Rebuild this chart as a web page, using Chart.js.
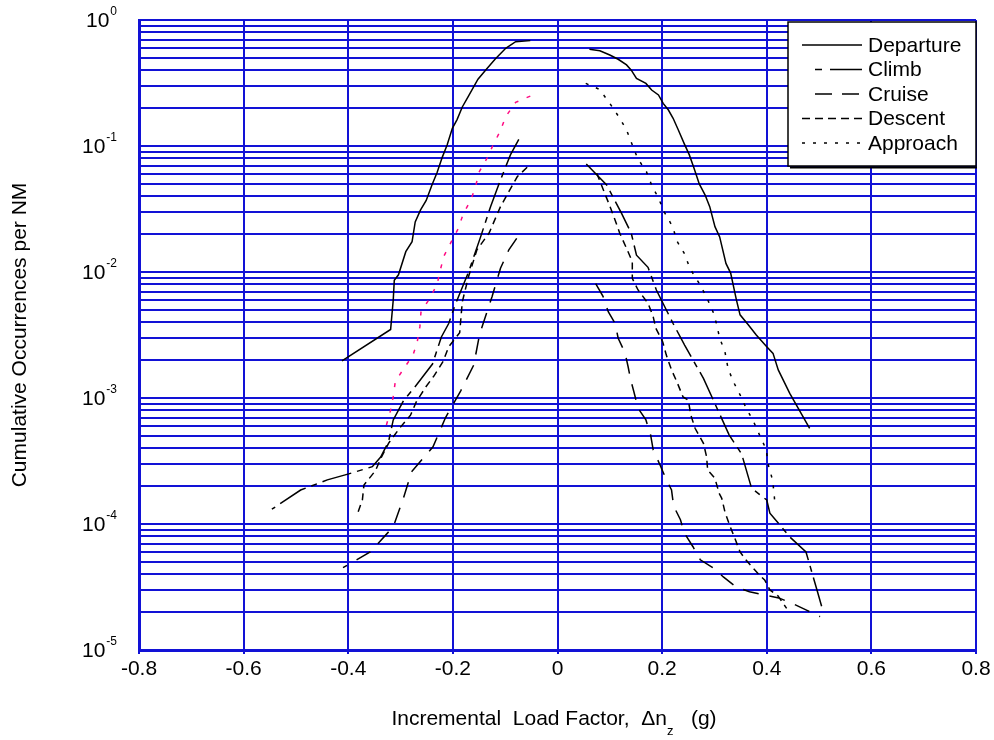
<!DOCTYPE html>
<html><head><meta charset="utf-8">
<script src="https://cdn.jsdelivr.net/npm/chart.js@4.4.0/dist/chart.umd.min.js"></script>
<style>html,body{margin:0;padding:0;background:#fff;}#wrap{width:994px;height:740px;}</style>
</head><body><div id="wrap"><canvas id="c" width="994" height="740"></canvas></div>
<script>
// ---------------- data ----------------
const xTickValues = [-0.8, -0.6, -0.4, -0.2, 0, 0.2, 0.4, 0.6, 0.8];
const yDecadeExponents = [0, -1, -2, -3, -4, -5];
const phaseLabels = ['Departure', 'Climb', 'Cruise', 'Descent', 'Approach'];

const departureNegX = [-0.412,-0.319,-0.314,-0.312,-0.304,-0.29,-0.278,-0.272,-0.262,-0.251,-0.24,-0.23,-0.22,-0.211,-0.201,-0.192,-0.182,-0.171,-0.152,-0.138,-0.119,-0.099,-0.08,-0.052];
const departureNegY = [1.97e-3,3.5e-3,6.0e-3,8.6e-3,9.5e-3,1.45e-2,1.74e-2,2.5e-2,3.1e-2,3.7e-2,4.9e-2,6.2e-2,8.2e-2,0.102,0.138,0.162,0.204,0.245,0.339,0.398,0.49,0.596,0.673,0.686];
const departurePosX = [0.061,0.081,0.1,0.116,0.132,0.141,0.151,0.169,0.18,0.193,0.202,0.212,0.221,0.231,0.242,0.252,0.261,0.271,0.282,0.291,0.301,0.31,0.322,0.331,0.342,0.349,0.365,0.38,0.4,0.412,0.422,0.444,0.482];
const departurePosY = [0.585,0.57,0.527,0.488,0.44,0.40,0.344,0.314,0.278,0.254,0.218,0.193,0.166,0.134,0.105,0.085,0.0665,0.05,0.041,0.033,0.0229,0.019,0.0117,0.0098,6.0e-3,4.57e-3,3.8e-3,3.16e-3,2.55e-3,2.26e-3,1.67e-3,1.09e-3,5.75e-4];

const climbNegX = [-0.074,-0.09,-0.109,-0.128,-0.147,-0.17,-0.197,-0.208,-0.222,-0.239,-0.258,-0.277,-0.294,-0.314,-0.323,-0.338,-0.354,-0.399,-0.44,-0.491,-0.546];
const climbNegY = [0.113,0.085,0.0537,0.033,0.019,0.01,5.3e-3,3.9e-3,3.05e-3,1.86e-3,1.47e-3,1.16e-3,9.6e-4,6.7e-4,4.5e-4,3.4e-4,2.85e-4,2.5e-4,2.24e-4,1.86e-4,1.31e-4];
const climbPosX = [0.055,0.094,0.122,0.141,0.151,0.173,0.189,0.221,0.243,0.279,0.298,0.328,0.352,0.371,0.4,0.406,0.444,0.475,0.497,0.508];
const climbPosY = [0.072,0.049,0.0295,0.0203,0.0136,0.0109,7.2e-3,3.9e-3,2.63e-3,1.43e-3,9.6e-4,5.1e-4,3.6e-4,1.92e-4,1.55e-4,1.22e-4,7.9e-5,6.0e-5,2.9e-5,2.0e-5];

const cruiseNegX = [-0.078,-0.093,-0.109,-0.125,-0.149,-0.16,-0.185,-0.214,-0.238,-0.279,-0.295,-0.314,-0.358,-0.41];
const cruiseNegY = [0.0185,0.015,0.0107,6.4e-3,3.2e-3,1.83e-3,1.14e-3,7.0e-4,4.1e-4,2.6e-4,1.58e-4,9.5e-5,6.0e-5,4.5e-5];
const cruisePosX = [0.073,0.087,0.097,0.11,0.116,0.129,0.135,0.14,0.146,0.154,0.169,0.178,0.183,0.196,0.207,0.218,0.222,0.235,0.243,0.259,0.273,0.299,0.317,0.342,0.367,0.396,0.423,0.451,0.475,0.502];
const cruisePosY = [8.1e-3,6.4e-3,4.84e-3,3.92e-3,2.98e-3,2.29e-3,1.77e-3,1.39e-3,1.12e-3,8.3e-4,6.7e-4,5.1e-4,3.86e-4,2.94e-4,2.3e-4,1.86e-4,1.39e-4,1.08e-4,8.4e-5,6.6e-5,5.2e-5,4.45e-5,3.8e-5,3.15e-5,2.9e-5,2.73e-5,2.59e-5,2.32e-5,2.08e-5,1.84e-5];

const descentNegX = [-0.058,-0.077,-0.093,-0.109,-0.131,-0.154,-0.17,-0.182,-0.187,-0.208,-0.219,-0.237,-0.252,-0.27,-0.281,-0.302,-0.323,-0.338,-0.348,-0.37,-0.373,-0.382];
const descentNegY = [0.0678,0.057,0.0434,0.033,0.0203,0.015,9.2e-3,5.8e-3,3.3e-3,2.55e-3,1.94e-3,1.48e-3,1.22e-3,9.3e-4,7.3e-4,5.75e-4,4.37e-4,3.3e-4,2.65e-4,2.04e-4,1.55e-4,1.22e-4];
const descentPosX = [0.075,0.084,0.1,0.11,0.119,0.132,0.143,0.143,0.154,0.173,0.183,0.188,0.201,0.208,0.218,0.228,0.24,0.25,0.255,0.263,0.279,0.285,0.287,0.301,0.309,0.314,0.32,0.329,0.339,0.349,0.36,0.371,0.387,0.396,0.406,0.421,0.438];
const descentPosY = [0.0607,0.049,0.0334,0.0259,0.0203,0.0154,0.0121,8.9e-3,7.2e-3,5.65e-3,4.4e-3,3.57e-3,2.8e-3,2.19e-3,1.67e-3,1.35e-3,1.02e-3,9.6e-4,7.3e-4,5.75e-4,4.37e-4,3.42e-4,2.68e-4,2.3e-4,1.75e-4,1.6e-4,1.25e-4,9.8e-5,7.7e-5,6.0e-5,5.2e-5,4.6e-5,3.9e-5,3.6e-5,3.0e-5,2.7e-5,2.14e-5];

const approachNegX = [-0.052,-0.08,-0.099,-0.11,-0.123,-0.134,-0.15,-0.157,-0.166,-0.18,-0.19,-0.203,-0.217,-0.224,-0.23,-0.243,-0.261,-0.263,-0.268,-0.276,-0.293,-0.31,-0.314,-0.319,-0.327];
const approachNegY = [0.249,0.222,0.171,0.13,0.102,0.081,0.062,0.047,0.037,0.029,0.022,0.0174,0.0134,0.0104,8.0e-3,6.3e-3,4.8e-3,3.7e-3,2.8e-3,2.2e-3,1.73e-3,1.36e-3,1.03e-3,8.0e-4,6.1e-4];
const approachPosX = [0.054,0.08,0.099,0.119,0.132,0.143,0.153,0.17,0.18,0.193,0.205,0.22,0.229,0.243,0.253,0.271,0.284,0.298,0.304,0.31,0.32,0.326,0.336,0.349,0.36,0.374,0.387,0.399,0.403,0.411,0.414,0.416];
const approachPosY = [0.314,0.282,0.221,0.166,0.134,0.102,0.08,0.0625,0.049,0.0385,0.0295,0.0229,0.0174,0.0139,0.0107,8.1e-3,6.45e-3,4.75e-3,3.87e-3,2.98e-3,2.34e-3,1.72e-3,1.35e-3,1.06e-3,8.4e-4,6.6e-4,5.0e-4,3.9e-4,2.94e-4,2.24e-4,1.75e-4,1.38e-4];

// ---------------- styles ----------------
const FONT = '"Liberation Sans", Arial, Helvetica, sans-serif';
const GRID = '#1212d6';
const styles = {
  Departure: { dash: [], legendStart: 802 },
  Climb:     { dash: [30, 6, 6, 6], legendDash: [7, 8, 40], legendStart: 815 },
  Cruise:    { dash: [16, 11], legendDash: [17, 10], legendStart: 815 },
  Descent:   { dash: [7, 5], legendDash: [8, 5], legendStart: 802 },
  Approach:  { dash: [3, 8], legendDash: [3, 8], legendStart: 802 }
};
const seriesData = {
  Departure: [[departureNegX, departureNegY], [departurePosX, departurePosY]],
  Climb:     [[climbNegX, climbNegY], [climbPosX, climbPosY]],
  Cruise:    [[cruiseNegX, cruiseNegY], [cruisePosX, cruisePosY]],
  Descent:   [[descentNegX, descentNegY], [descentPosX, descentPosY]],
  Approach:  [[approachNegX, approachNegY], [approachPosX, approachPosY]]
};
function pts(xs, ys) { return xs.map((x, i) => ({ x: x, y: ys[i] })); }

const datasets = [];
phaseLabels.forEach(name => {
  const st = styles[name];
  seriesData[name].forEach((pair, k) => {
    const pink = (name === 'Approach' && k === 0);
    datasets.push({
      label: name,
      data: pts(pair[0], pair[1]),
      borderColor: pink ? '#ff0a82' : '#000000',
      borderWidth: 1.5,
      borderDash: pink ? [4, 9] : st.dash,
      pointRadius: 0,
      tension: 0,
      fill: false,
      legendSkip: k === 0
    });
  });
});

const yGridValues = [];
for (let e = -5; e < 0; e++) for (let m = 1; m <= 9; m++) yGridValues.push(m * Math.pow(10, e));
yGridValues.push(1);

const decor = {
  id: 'decor',
  afterDraw(chart) {
    const ctx = chart.ctx, ys = chart.scales.y, area = chart.chartArea;
    ctx.save();
    // y tick labels 10^n
    yDecadeExponents.forEach(e => {
      const y = ys.getPixelForValue(Math.pow(10, e));
      const expTxt = e === 0 ? '0' : '-' + Math.abs(e);
      ctx.font = '12px ' + FONT;
      const ew = ctx.measureText(expTxt).width;
      const right = 117;
      ctx.fillStyle = '#000';
      ctx.textBaseline = 'middle';
      ctx.textAlign = 'left';
      ctx.fillText(expTxt, right - ew, y - 8);
      ctx.font = '21px ' + FONT;
      ctx.textAlign = 'right';
      ctx.fillText('10', right - ew - 1, y + 1);
    });
    // x axis title with subscript
    const parts = [
      { t: 'Incremental  Load Factor,  \u0394n', size: 21, dy: 0 },
      { t: 'z', size: 13, dy: 12 },
      { t: '   (g)', size: 21, dy: 0 }
    ];
    let total = 0;
    parts.forEach(p => { ctx.font = p.size + 'px ' + FONT; p.w = ctx.measureText(p.t).width; total += p.w; });
    let x = 554 - total / 2;
    ctx.textAlign = 'left';
    ctx.textBaseline = 'middle';
    parts.forEach(p => { ctx.font = p.size + 'px ' + FONT; ctx.fillText(p.t, x, 719 + p.dy); x += p.w; });
    // legend box
    const bx = 788, by = area.top + 2, bw = area.right - 788, bh = 144;
    ctx.fillStyle = '#fff';
    ctx.fillRect(bx, by, bw, bh);
    ctx.strokeStyle = '#000';
    ctx.lineWidth = 1.5;
    ctx.setLineDash([]);
    ctx.strokeRect(bx, by, bw, bh);
    ctx.lineWidth = 2;
    ctx.beginPath(); ctx.moveTo(bx + 2, by + bh + 1.5); ctx.lineTo(bx + bw + 1, by + bh + 1.5); ctx.stroke();
    const items = chart.data.datasets.filter(d => !d.legendSkip);
    items.forEach((d, i) => {
      const st = styles[d.label];
      const y = by + 23 + i * 24.5;
      ctx.strokeStyle = '#000';
      ctx.lineWidth = 1.5;
      ctx.setLineDash(st.legendDash || st.dash);
      ctx.beginPath(); ctx.moveTo(st.legendStart, y); ctx.lineTo(862, y); ctx.stroke();
      ctx.setLineDash([]);
      ctx.fillStyle = '#000';
      ctx.font = '21px ' + FONT;
      ctx.textAlign = 'left';
      ctx.textBaseline = 'middle';
      ctx.fillText(d.label, 868, y + 1);
    });
    ctx.restore();
  }
};

new Chart(document.getElementById('c'), {
  type: 'line',
  data: { datasets: datasets },
  plugins: [decor],
  options: {
    responsive: false,
    devicePixelRatio: 1,
    animation: false,
    layout: { padding: { top: 20, right: 18, left: 0, bottom: 0 } },
    plugins: { legend: { display: false }, tooltip: { enabled: false } },
    scales: {
      x: {
        type: 'linear', min: -0.8, max: 0.8,
        afterBuildTicks: s => { s.ticks = xTickValues.map(v => ({ value: v })); },
        afterFit: s => { s.height = 90; },
        ticks: {
          callback: v => (Math.abs(v) < 1e-9 ? '0' : Number(v).toFixed(1)),
          font: { family: FONT, size: 21 }, color: '#000', padding: 3, maxRotation: 0, autoSkip: false
        },
        grid: { color: GRID, lineWidth: 2, tickLength: 4, tickColor: GRID, tickWidth: 2 },
        border: { color: GRID, width: 3 }
      },
      y: {
        type: 'logarithmic', min: 1e-5, max: 1,
        afterBuildTicks: s => { s.ticks = yGridValues.map(v => ({ value: v })); },
        afterFit: s => { s.width = 139; },
        ticks: { display: false },
        grid: { color: GRID, lineWidth: 2, drawTicks: false },
        border: { color: GRID, width: 3 },
        title: {
          display: true, text: 'Cumulative Occurrences per NM',
          font: { family: FONT, size: 21 }, color: '#000', padding: { top: 8 }
        }
      }
    }
  }
});
</script></body></html>
